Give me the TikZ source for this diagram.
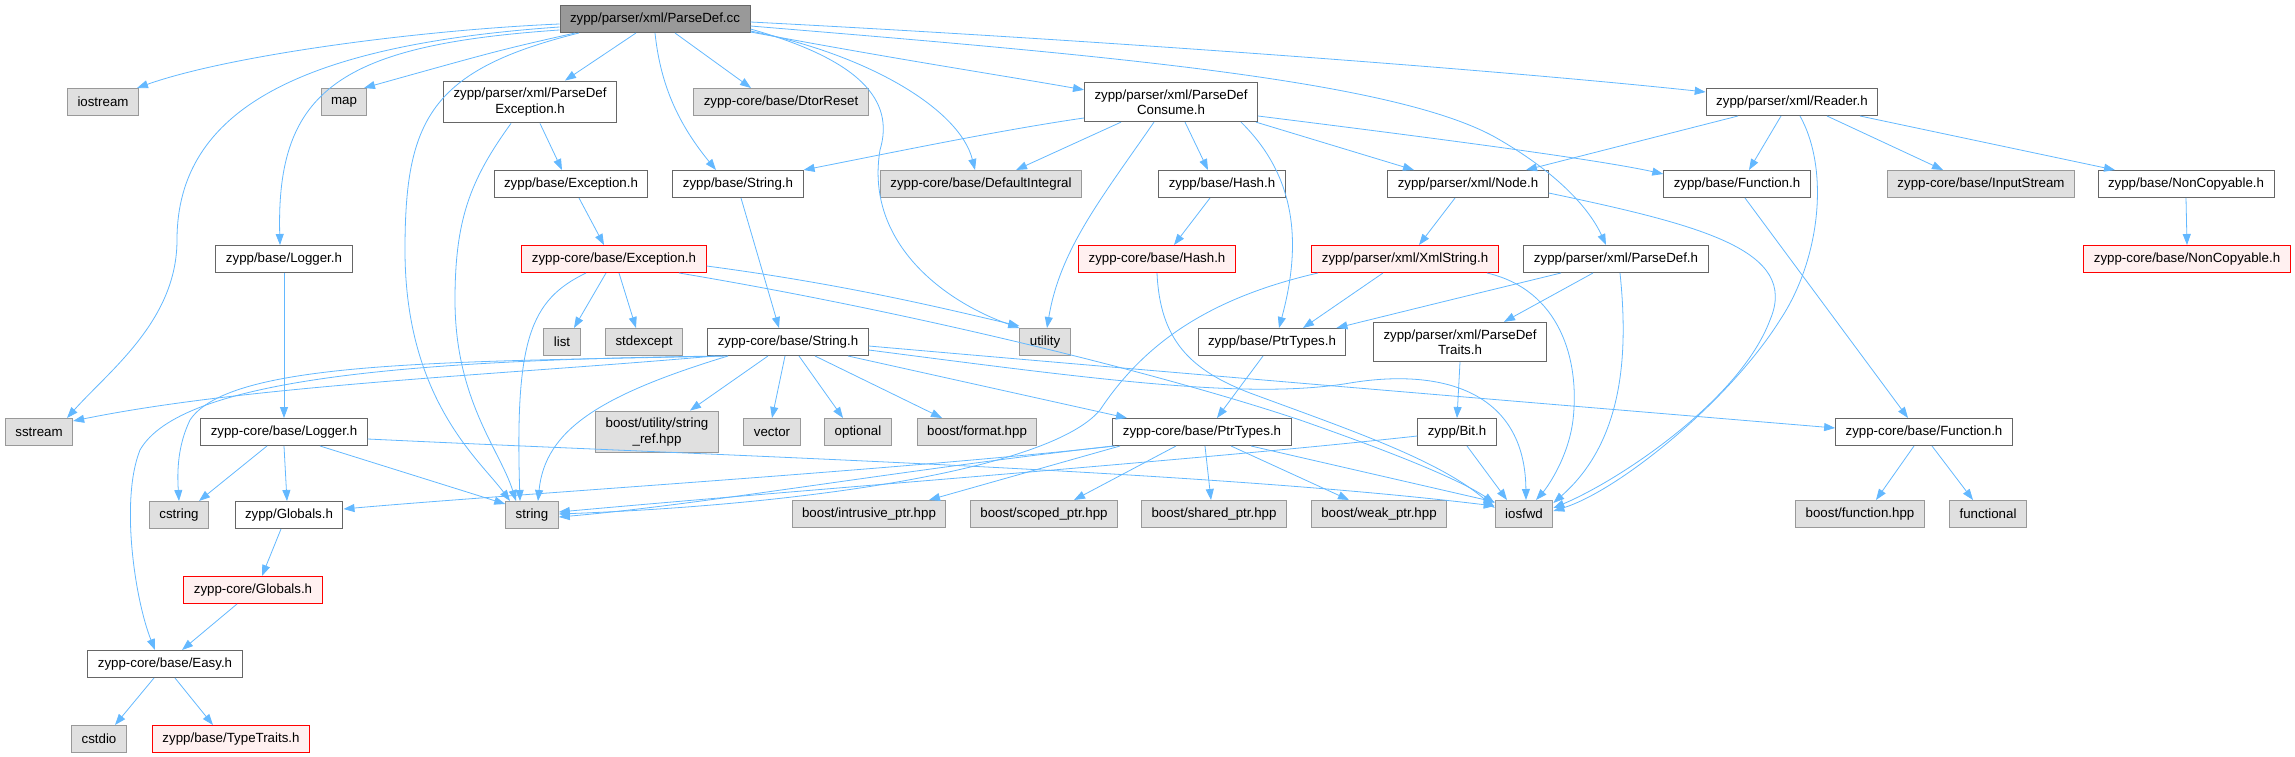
\documentclass[tikz,border=0pt]{standalone}
\usepackage{fontspec}
\setmainfont{Liberation Sans}
\usetikzlibrary{arrows.meta}

\definecolor{depblue}{HTML}{63B8FF}
\definecolor{sysfill}{HTML}{E0E0E0}
\definecolor{sysline}{HTML}{999999}
\definecolor{hdrline}{HTML}{666666}
\definecolor{badfill}{HTML}{FFF0F0}

\begin{document}
\begin{tikzpicture}[x=1pt,y=-1pt,
  >={Triangle[length=11pt,width=8pt]},
  hdr/.style={draw=hdrline, fill=white, line width=1pt, inner xsep=10pt, inner ysep=7pt,
    minimum height=27pt, align=center, font=\fontsize{13.3}{15.5}\selectfont},
  sys/.style={hdr, draw=sysline, fill=sysfill},
  bad/.style={hdr, draw=red, fill=badfill},
  top/.style={hdr, fill=sysline},
  dep/.style={->, draw=depblue, fill=none, line width=0.8pt}]
  \useasboundingbox (0,0) rectangle (2295,757);

  % row 1
  \node[top] (pdcc) at (655,19) {zypp/parser/xml/ParseDef.cc};
  % row 2
  \node[sys] (iostream) at (103,102) {iostream};
  \node[sys] (map) at (344,102) {map};
  \node[hdr] (pdexc) at (530,102) {zypp/parser/xml/ParseDef\\Exception.h};
  \node[sys] (dtor) at (781,102) {zypp-core/base/DtorReset};
  \node[hdr] (pdcons) at (1171,102) {zypp/parser/xml/ParseDef\\Consume.h};
  \node[hdr] (reader) at (1792,102) {zypp/parser/xml/Reader.h};
  % row 3
  \node[hdr] (bexc) at (571,184) {zypp/base/Exception.h};
  \node[hdr] (bstr) at (738,184) {zypp/base/String.h};
  \node[sys] (defint) at (981,184) {zypp-core/base/DefaultIntegral};
  \node[hdr] (bhash) at (1222,184) {zypp/base/Hash.h};
  \node[hdr] (node) at (1468,184) {zypp/parser/xml/Node.h};
  \node[hdr] (bfunc) at (1737,184) {zypp/base/Function.h};
  \node[sys] (instream) at (1981,184) {zypp-core/base/InputStream};
  \node[hdr] (bnoncp) at (2186,184) {zypp/base/NonCopyable.h};
  % row 4
  \node[hdr] (blog) at (284,259) {zypp/base/Logger.h};
  \node[bad] (cexc) at (614,259) {zypp-core/base/Exception.h};
  \node[bad] (chash) at (1157,259) {zypp-core/base/Hash.h};
  \node[bad] (xmlstr) at (1405,259) {zypp/parser/xml/XmlString.h};
  \node[hdr] (pdh) at (1616,259) {zypp/parser/xml/ParseDef.h};
  \node[bad] (cnoncp) at (2187,259) {zypp-core/base/NonCopyable.h};
  % row 5
  \node[sys] (list) at (562,342) {list};
  \node[sys] (stdexc) at (644,342) {stdexcept};
  \node[hdr] (cstr) at (788,342) {zypp-core/base/String.h};
  \node[sys] (utility) at (1045,342) {utility};
  \node[hdr] (bptr) at (1272,342) {zypp/base/PtrTypes.h};
  \node[hdr] (pdtraits) at (1460,342) {zypp/parser/xml/ParseDef\\Traits.h};
  % row 6
  \node[sys] (sstream) at (39,432) {sstream};
  \node[hdr] (clog) at (284,432) {zypp-core/base/Logger.h};
  \node[sys] (strref) at (657,432) {boost/utility/string\\\_ref.hpp};
  \node[sys] (vector) at (772,432) {vector};
  \node[sys] (optional) at (858,432) {optional};
  \node[sys] (bformat) at (977,432) {boost/format.hpp};
  \node[hdr] (cptr) at (1202,432) {zypp-core/base/PtrTypes.h};
  \node[hdr] (bit) at (1457,432) {zypp/Bit.h};
  \node[hdr] (cfunc) at (1924,432) {zypp-core/base/Function.h};
  % row 7
  \node[sys] (cstring) at (179,515) {cstring};
  \node[hdr] (globals) at (289,515) {zypp/Globals.h};
  \node[sys] (string) at (532,515) {string};
  \node[sys] (intrusive) at (869,514) {boost/intrusive\_ptr.hpp};
  \node[sys] (scoped) at (1044,514) {boost/scoped\_ptr.hpp};
  \node[sys] (shared) at (1214,514) {boost/shared\_ptr.hpp};
  \node[sys] (weak) at (1379,514) {boost/weak\_ptr.hpp};
  \node[sys] (iosfwd) at (1524,514) {iosfwd};
  \node[sys] (bfunchpp) at (1860,514) {boost/function.hpp};
  \node[sys] (functional) at (1988,514) {functional};
  % rows 8-10
  \node[bad] (cglobals) at (253,590) {zypp-core/Globals.h};
  \node[hdr] (easy) at (165,664) {zypp-core/base/Easy.h};
  \node[sys] (cstdio) at (99,739) {cstdio};
  \node[bad] (traits) at (231,739) {zypp/base/TypeTraits.h};

  % ParseDef.cc
  \draw[dep] ([yshift=-5pt]pdcc.west) .. controls (420,30) and (230,55) .. ([xshift=34pt]iostream.north);
  \draw[dep] ([yshift=-8pt]pdcc.west) .. controls (300,45) and (177,110) .. (177,240)
    .. controls (177,320) and (110,370) .. ([xshift=28pt]sstream.north);
  \draw[dep] ([yshift=-11pt]pdcc.west) .. controls (340,45) and (276,90) .. ([xshift=-4pt]blog.north);
  \draw[dep] ([xshift=-76pt]pdcc.south) .. controls (430,70) and (405,120) .. (405,250)
    .. controls (405,400) and (480,460) .. ([xshift=-22pt]string.north);
  \draw[dep] ([xshift=-80pt]pdcc.south) .. controls (500,50) .. ([xshift=20pt]map.north);
  \draw[dep] ([xshift=-19pt]pdcc.south) -- ([xshift=35pt]pdexc.north);
  \draw[dep] (pdcc.south) .. controls (660,80) and (675,120) .. ([xshift=-22pt]bstr.north);
  \draw[dep] ([xshift=20pt]pdcc.south) -- ([xshift=-30pt]dtor.north);
  \draw[dep] ([yshift=-10pt]pdcc.east) .. controls (860,60) and (895,100) .. (880,150)
    .. controls (865,240) and (940,300) .. (utility.north west);
  \draw[dep] ([yshift=-12pt]pdcc.east) .. controls (870,55) and (960,110) .. ([xshift=-6pt]defint.north);
  \draw[dep] ([yshift=-13pt]pdcc.east) .. controls (900,60) and (1000,75) .. ([yshift=-8pt]pdcons.north west);
  \draw[dep] ([yshift=-7pt]pdcc.east) .. controls (1100,55) and (1400,80) .. (1500,140)
    .. controls (1560,175) and (1590,210) .. ([xshift=-10pt]pdh.north);
  \draw[dep] ([yshift=-3pt]pdcc.east) .. controls (1100,40) and (1500,70) .. ([yshift=10pt]reader.west);

  % ParseDefException.h, Exception.h
  \draw[dep] ([xshift=10pt]pdexc.south) -- ([xshift=-9pt]bexc.north);
  \draw[dep] ([xshift=-19pt]pdexc.south) .. controls (470,180) and (455,220) .. (455,300)
    .. controls (455,400) and (500,450) .. ([xshift=-16pt]string.north);
  \draw[dep] ([xshift=8pt]bexc.south) -- ([xshift=-10pt]cexc.north);
  \draw[dep] ([xshift=-8pt]cexc.south) -- ([xshift=12pt]list.north);
  \draw[dep] ([xshift=5pt]cexc.south) -- ([xshift=-8pt]stdexc.north);
  \draw[dep] ([xshift=-28pt]cexc.south) .. controls (530,300) and (515,340) .. ([xshift=-12pt]string.north);
  \draw[dep] ([yshift=-7pt]cexc.east) .. controls (850,285) and (950,310) .. ([yshift=2pt]utility.north west);
  \draw[dep] ([xshift=65pt]cexc.south) .. controls (900,310) and (1150,370) .. (1300,420)
    .. controls (1400,455) and (1460,480) .. ([yshift=-3pt]iosfwd.north west);

  % String.h
  \draw[dep] ([xshift=3pt]bstr.south) -- ([xshift=-9pt]cstr.north);
  \draw[dep] ([xshift=-73pt]cstr.south) .. controls (500,375) and (250,385) .. ([yshift=-3pt]sstream.north east);
  \draw[dep] ([xshift=-60pt]cstr.south) .. controls (450,362) and (230,360) .. (190,420)
    .. controls (178,445) and (177,470) .. (cstring.north);
  \draw[dep] ([xshift=-66pt]cstr.south) .. controls (400,360) and (180,380) .. (140,450)
    .. controls (120,500) and (135,600) .. ([xshift=-10pt]easy.north);
  \draw[dep] ([xshift=-60pt]cstr.south) .. controls (600,395) and (545,430) .. ([xshift=6pt]string.north);
  \draw[dep] ([xshift=-20pt]cstr.south) -- ([xshift=33pt]strref.north);
  \draw[dep] ([xshift=-3pt]cstr.south) -- (vector.north);
  \draw[dep] ([xshift=11pt]cstr.south) -- ([xshift=-15pt]optional.north);
  \draw[dep] ([xshift=27pt]cstr.south) -- ([xshift=-35pt]bformat.north);
  \draw[dep] ([xshift=60pt]cstr.south) -- ([xshift=-75pt]cptr.north);
  \draw[dep] ([yshift=-8pt]cstr.east) .. controls (1100,380) and (1250,400) .. (1350,383)
    .. controls (1440,368) and (1525,390) .. ([xshift=2pt]iosfwd.north);
  \draw[dep] ([yshift=-4pt]cstr.east) .. controls (1200,375) and (1500,400) .. ([yshift=4pt]cfunc.west);

  % Logger.h
  \draw[dep] (blog.south) -- (clog.north);
  \draw[dep] ([xshift=-17pt]clog.south) -- ([xshift=20pt]cstring.north);
  \draw[dep] (clog.south) -- ([xshift=-2pt]globals.north);
  \draw[dep] ([xshift=36pt]clog.south) -- ([yshift=-3pt]string.north west);
  \draw[dep] ([yshift=-7pt]clog.east) .. controls (700,455) and (1200,470) .. ([yshift=-6pt]iosfwd.north west);
  \draw[dep] ([xshift=-8pt]globals.south) -- ([xshift=9pt]cglobals.north);
  \draw[dep] ([xshift=-16pt]cglobals.south) -- ([xshift=17pt]easy.north);
  \draw[dep] ([xshift=-11pt]easy.south) -- ([xshift=16pt]cstdio.north);
  \draw[dep] ([xshift=10pt]easy.south) -- ([xshift=-18pt]traits.north);

  % ParseDefConsume.h
  \draw[dep] ([yshift=-16pt]pdcons.west) .. controls (1000,130) and (880,155) .. (bstr.north east);
  \draw[dep] ([xshift=-50pt]pdcons.south) -- ([xshift=35pt]defint.north);
  \draw[dep] ([xshift=-17pt]pdcons.south) .. controls (1100,200) and (1060,250) .. ([xshift=2pt]utility.north);
  \draw[dep] ([xshift=14pt]pdcons.south) -- ([xshift=-14pt]bhash.north);
  \draw[dep] ([xshift=70pt]pdcons.south) .. controls (1300,180) and (1300,250) .. ([xshift=7pt]bptr.north);
  \draw[dep] ([xshift=85pt]pdcons.south) -- ([xshift=-54pt]node.north);
  \draw[dep] ([yshift=-14pt]pdcons.east) .. controls (1450,140) and (1600,160) .. ([yshift=-4pt]bfunc.north west);
  \draw[dep] ([xshift=-12pt]bhash.south) -- ([xshift=17pt]chash.north);
  \draw[dep] (chash.south) .. controls (1160,340) and (1190,370) .. (1250,393)
    .. controls (1350,430) and (1440,460) .. ([yshift=-8pt]iosfwd.north west);

  % Node.h, Reader.h
  \draw[dep] ([xshift=-13pt]node.south) -- ([xshift=14pt]xmlstr.north);
  \draw[dep] ([yshift=-9pt]node.east) .. controls (1700,225) and (1800,250) .. (1770,320)
    .. controls (1740,400) and (1620,480) .. ([yshift=6pt]iosfwd.east);
  \draw[dep] ([xshift=-54pt]reader.south) -- ([xshift=58pt]node.north);
  \draw[dep] ([xshift=-11pt]reader.south) -- ([xshift=12pt]bfunc.north);
  \draw[dep] ([xshift=8pt]reader.south) .. controls (1830,170) and (1820,260) .. (1780,320)
    .. controls (1730,400) and (1620,490) .. ([yshift=3pt]iosfwd.east);
  \draw[dep] ([xshift=35pt]reader.south) -- ([xshift=-38pt]instream.north);
  \draw[dep] ([xshift=68pt]reader.south) -- ([xshift=-71pt]bnoncp.north);
  \draw[dep] (bnoncp.south) -- (cnoncp.north);
  \draw[dep] ([xshift=8pt]bfunc.south) -- ([xshift=-16pt]cfunc.north);
  \draw[dep] ([xshift=-10pt]cfunc.south) -- ([xshift=16pt]bfunchpp.north);
  \draw[dep] ([xshift=8pt]cfunc.south) -- ([xshift=-15pt]functional.north);

  % XmlString.h, ParseDef.h
  \draw[dep] ([xshift=-22pt]xmlstr.south) -- ([xshift=31pt]bptr.north);
  \draw[dep] ([xshift=-87pt]xmlstr.south) .. controls (1200,300) and (1140,350) .. (1100,410)
    .. controls (1050,470) and (800,505) .. ([yshift=1pt]string.east);
  \draw[dep] ([xshift=82pt]xmlstr.south) .. controls (1560,290) and (1580,360) .. (1573,420)
    .. controls (1568,460) and (1545,490) .. ([xshift=12pt]iosfwd.north);
  \draw[dep] ([xshift=-55pt]pdh.south) .. controls (1450,300) .. ([xshift=-10pt]bptr.north east);
  \draw[dep] ([xshift=-23pt]pdh.south) -- ([xshift=44pt]pdtraits.north);
  \draw[dep] ([xshift=4pt]pdh.south) .. controls (1628,350) and (1625,440) .. ([yshift=-3pt]iosfwd.north east);
  \draw[dep] ([xshift=-9pt]bptr.south) -- ([xshift=15pt]cptr.north);
  \draw[dep] (pdtraits.south) -- (bit.north);

  % Bit.h, PtrTypes.h
  \draw[dep] ([yshift=-4pt]bit.west) .. controls (1200,460) and (800,490) .. ([yshift=3pt]string.east);
  \draw[dep] ([xshift=10pt]bit.south) -- ([xshift=-17pt]iosfwd.north);
  \draw[dep] ([xshift=-89pt]cptr.south) .. controls (900,470) and (700,505) .. ([yshift=-2pt]string.east);
  \draw[dep] ([xshift=-87pt]cptr.south) .. controls (900,470) and (500,495) .. ([yshift=6pt]globals.east);
  \draw[dep] ([xshift=-82pt]cptr.south) -- ([xshift=60pt]intrusive.north);
  \draw[dep] ([xshift=-26pt]cptr.south) -- ([xshift=30pt]scoped.north);
  \draw[dep] ([xshift=3pt]cptr.south) -- ([xshift=-3pt]shared.north);
  \draw[dep] ([xshift=29pt]cptr.south) -- ([xshift=-30pt]weak.north);
  \draw[dep] ([xshift=49pt]cptr.south) -- ([yshift=-2pt]iosfwd.north west);
\end{tikzpicture}
\end{document}
